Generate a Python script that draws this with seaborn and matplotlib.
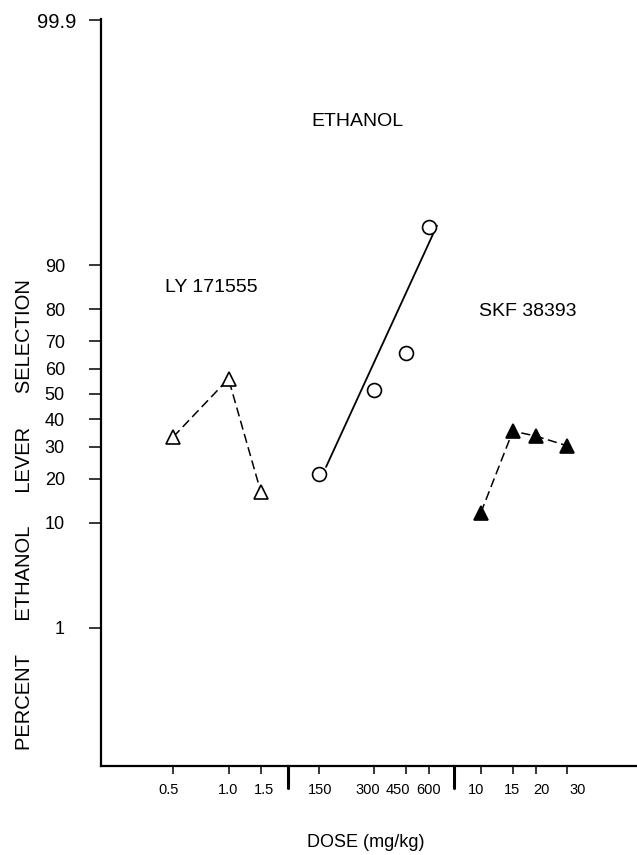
import matplotlib
matplotlib.use('Agg')
import matplotlib.pyplot as plt
import matplotlib.transforms as mtrans
import numpy as np
import seaborn as sns
from statistics import NormalDist

# data (dose in mg/kg, percent ethanol lever selection)
ly_dose = [0.5, 1.0, 1.5]
ly_pct = [33.5, 56.0, 16.5]

eth_dose = [150, 300, 450, 600]
eth_pct = [21.3, 51.6, 65.8, 95.2]
eth_fit_dose = [164, 663]      # ends of the fitted line
eth_fit_pct = [23.4, 95.3]

skf_dose = [10, 15, 20, 30]
skf_pct = [11.9, 35.6, 33.8, 30.3]

y_ticks = [1, 10, 20, 30, 40, 50, 60, 70, 80, 90, 99.99]
y_ticklabels = ['1', '10', '20', '30', '40', '50', '60', '70', '80', '90', '99.9']
seg_ticks = [[0.5, 1.0, 1.5], [150, 300, 450, 600], [10, 15, 20, 30]]
seg_ticklabels = [['0.5', '1.0', '1.5'], ['150', '300', '450', '600'], ['10', '15', '20', '30']]
seg_xlim = [(0.202, 2.11), (101.6, 822), (7.11, 72.5)]
# small horizontal nudges (px) of the x tick labels, as typeset in the original
seg_label_nudge = [[-5, 0, 3], [1, -6, -8, 0], [-5, -1, 6, 10]]

# probit (normal probability) scale for the y axis
_nd = NormalDist()
def probit(p):
    p = np.clip(np.asarray(p, dtype=float), 1e-9, 100 - 1e-9)
    return np.vectorize(lambda v: _nd.inv_cdf(v / 100.0), otypes=[float])(p)

def inv_probit(z):
    z = np.asarray(z, dtype=float)
    return np.vectorize(lambda v: _nd.cdf(v) * 100.0, otypes=[float])(z)

sns.set_style('ticks')
plt.rcParams['font.family'] = ['Liberation Sans', 'DejaVu Sans']
plt.rcParams['text.color'] = 'black'
plt.rcParams['axes.labelcolor'] = 'black'
plt.rcParams['xtick.color'] = 'black'
plt.rcParams['ytick.color'] = 'black'
plt.rcParams['axes.edgecolor'] = 'black'

fig = plt.figure(figsize=(6.37, 8.55), dpi=100)
gs = fig.add_gridspec(1, 3, width_ratios=[187, 166, 183], left=0.1586, right=1.0,
                      bottom=0.1041, top=0.9778, wspace=0)
ax1 = fig.add_subplot(gs[0])
ax2 = fig.add_subplot(gs[1], sharey=ax1)
ax3 = fig.add_subplot(gs[2], sharey=ax1)
axs = [ax1, ax2, ax3]

for ax, xl in zip(axs, seg_xlim):
    ax.set_xscale('log')
    ax.set_yscale('function', functions=(probit, inv_probit))
    ax.set_xlim(*xl)
ax1.set_ylim(0.0108, 99.9904)

# LY 171555 - open triangles, dashed
sns.lineplot(x=ly_dose, y=ly_pct, ax=ax1, estimator=None, color='black', lw=1.1,
             linestyle=(0, (6, 3)), marker='^', markersize=9.5, markerfacecolor='white',
             markeredgecolor='black', markeredgewidth=1.2)

# ethanol - open circles with fitted line
sns.lineplot(x=eth_fit_dose, y=eth_fit_pct, ax=ax2, estimator=None, color='black', lw=1.3)
sns.scatterplot(x=eth_dose, y=eth_pct, ax=ax2, marker='o', s=100, facecolor='white',
                edgecolor='black', linewidth=1.2, zorder=3)

# SKF 38393 - filled triangles, dashed
sns.lineplot(x=skf_dose, y=skf_pct, ax=ax3, estimator=None, color='black', lw=1.1,
             linestyle=(0, (6, 3)), marker='^', markersize=9.5, markerfacecolor='black',
             markeredgecolor='black', markeredgewidth=1.2)

for i, ax in enumerate(axs):
    ax.set(xlabel='', ylabel='')
    ax.set_xticks(seg_ticks[i])
    ax.set_xticklabels(seg_ticklabels[i], fontsize=10.5)
    ax.xaxis.set_minor_locator(matplotlib.ticker.NullLocator())
    ax.yaxis.set_minor_locator(matplotlib.ticker.NullLocator())
    ax.tick_params(axis='x', direction='out', length=6, width=1.1, pad=6, color='black')
    for s in ['top', 'right']:
        ax.spines[s].set_visible(False)
    ax.spines['bottom'].set_linewidth(1.6)
    if i > 0:
        ax.spines['left'].set_visible(False)
        ax.tick_params(axis='y', left=False, labelleft=False)
        # segment separator below the axis
        ax.plot([0, 0], [0, -0.029], transform=ax.transAxes, clip_on=False,
                color='black', lw=2.2)

ax1.set_yticks(y_ticks)
ax1.set_yticklabels(y_ticklabels, fontsize=13)
ax1.tick_params(axis='y', direction='out', length=9, width=1.1, pad=17, color='black')
ax1.spines['left'].set_linewidth(1.6)

# nudge the tick labels like the original typesetting
for ax, nudges in zip(axs, seg_label_nudge):
    for lbl, dx in zip(ax.get_xticklabels(), nudges):
        lbl.set_transform(lbl.get_transform() + mtrans.ScaledTranslation(dx / 100, 0, fig.dpi_scale_trans))
top_lbl = ax1.get_yticklabels()[-1]
top_lbl.set_fontsize(14.5)
top_lbl.set_transform(top_lbl.get_transform() + mtrans.ScaledTranslation(0.11, 0, fig.dpi_scale_trans))

ax1.text(0.588, 0.641, 'LY 171555', transform=ax1.transAxes, ha='center', va='center', fontsize=14)
ax2.text(0.42, 0.863, 'ETHANOL', transform=ax2.transAxes, ha='center', va='center', fontsize=14)
ax3.text(0.404, 0.609, 'SKF 38393', transform=ax3.transAxes, ha='center', va='center', fontsize=14)

fig.text(0.039, 1 - 515 / 855, 'PERCENT      ETHANOL      LEVER      SELECTION', rotation=90,
         ha='center', va='center', fontsize=14.5)
fig.text(366 / 637, 1 - 842 / 855, 'DOSE (mg/kg)', ha='center', va='center', fontsize=13)

fig.savefig('out.png', dpi=100)
